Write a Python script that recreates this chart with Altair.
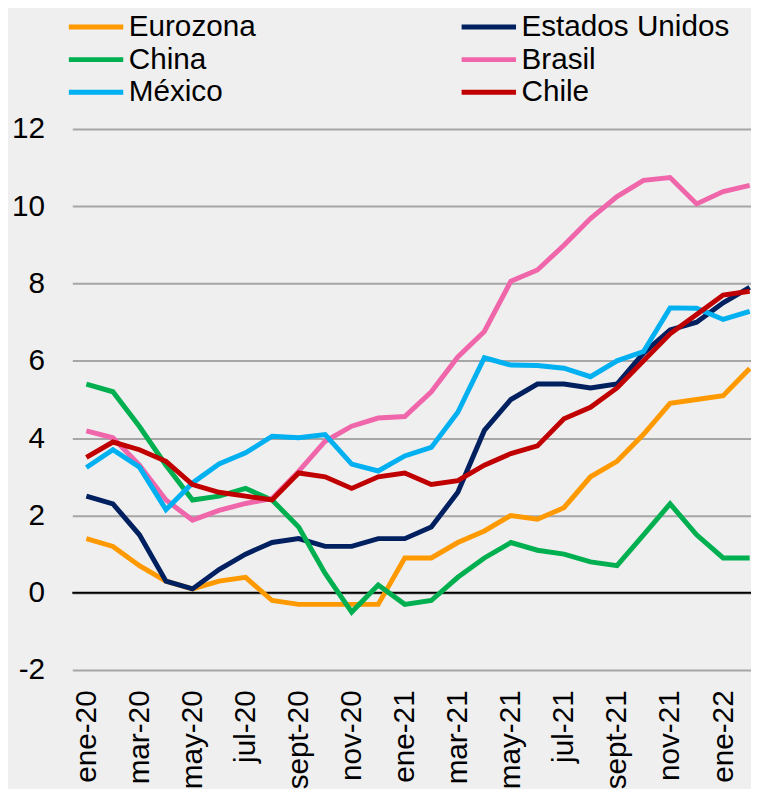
import altair as alt
import pandas as pd

months = ["ene-20", "feb-20", "mar-20", "abr-20", "may-20", "jun-20", "jul-20", "ago-20",
          "sept-20", "oct-20", "nov-20", "dic-20", "ene-21", "feb-21", "mar-21", "abr-21",
          "may-21", "jun-21", "jul-21", "ago-21", "sept-21", "oct-21", "nov-21", "dic-21",
          "ene-22", "feb-22"]

eurozona = [1.4, 1.2, 0.7, 0.3, 0.1, 0.3, 0.4, -0.2, -0.3, -0.3, -0.3, -0.3, 0.9, 0.9, 1.3, 1.6,
            2.0, 1.9, 2.2, 3.0, 3.4, 4.1, 4.9, 5.0, 5.1, 5.8]
estados_unidos = [2.5, 2.3, 1.5, 0.3, 0.1, 0.6, 1.0, 1.3, 1.4, 1.2, 1.2, 1.4, 1.4, 1.7, 2.6, 4.2,
                  5.0, 5.4, 5.4, 5.3, 5.4, 6.2, 6.8, 7.0, 7.5, 7.9]
china = [5.4, 5.2, 4.3, 3.3, 2.4, 2.5, 2.7, 2.4, 1.7, 0.5, -0.5, 0.2, -0.3, -0.2, 0.4, 0.9,
         1.3, 1.1, 1.0, 0.8, 0.7, 1.5, 2.3, 1.5, 0.9, 0.9]
brasil = [4.19, 4.01, 3.30, 2.40, 1.88, 2.13, 2.31, 2.44, 3.14, 3.92, 4.31, 4.52, 4.56, 5.20,
          6.10, 6.76, 8.06, 8.35, 8.99, 9.68, 10.25, 10.67, 10.74, 10.06, 10.38, 10.54]
mexico = [3.24, 3.70, 3.25, 2.15, 2.84, 3.33, 3.62, 4.05, 4.01, 4.09, 3.33, 3.15, 3.54, 3.76,
          4.67, 6.08, 5.89, 5.88, 5.81, 5.59, 6.00, 6.24, 7.37, 7.36, 7.07, 7.28]
chile = [3.5, 3.9, 3.7, 3.4, 2.8, 2.6, 2.5, 2.4, 3.1, 3.0, 2.7, 3.0, 3.1, 2.8, 2.9, 3.3,
         3.6, 3.8, 4.5, 4.8, 5.3, 6.0, 6.7, 7.2, 7.7, 7.8]

names = ["Eurozona", "Estados Unidos", "China", "Brasil", "México", "Chile"]
colors = ["#FF9900", "#002060", "#00B050", "#F066AA", "#00B0F0", "#C00000"]
series = [eurozona, estados_unidos, china, brasil, mexico, chile]

rows = []
for name, vals in zip(names, series):
    for i, v in enumerate(vals):
        rows.append({"serie": name, "i": i, "mes": months[i], "valor": v})
df = pd.DataFrame(rows)

FONT = "Liberation Sans"
label_expr = "[" + ",".join("'%s'" % m for m in months) + "][datum.value]"

lines = alt.Chart(df).mark_line(strokeWidth=5, clip=True).encode(
    x=alt.X("i:Q",
            scale=alt.Scale(domain=[-0.53, 25.05], nice=False, zero=False),
            axis=alt.Axis(values=list(range(0, 26, 2)), labelExpr=label_expr,
                          labelAngle=270, labelFontSize=30, labelFont=FONT,
                          labelColor="black", labelPadding=20, labelOverlap=False,
                          labelBound=False, labelFlush=False,
                          ticks=False, domain=False, grid=False, title=None)),
    y=alt.Y("valor:Q",
            scale=alt.Scale(domain=[-2, 12], nice=False, zero=False),
            axis=alt.Axis(values=list(range(-2, 13, 2)), labelExpr="'' + datum.value",
                          labelFontSize=30, labelFont=FONT,
                          labelColor="black", labelPadding=28, ticks=False, domain=False,
                          grid=True, gridColor="#a6a6a6", gridWidth=2, title=None)),
    color=alt.Color("serie:N",
                    scale=alt.Scale(domain=names, range=colors),
                    legend=alt.Legend(orient="none", legendX=9, legendY=-118, columns=2,
                                      direction="horizontal",
                                      symbolType="M-2.5,0H2.5", symbolStrokeWidth=5,
                                      symbolSize=484, labelFontSize=30, labelFont=FONT,
                                      labelColor="black", labelOffset=18, labelLimit=500,
                                      columnPadding=197, rowPadding=3, title=None,
                                      symbolOpacity=1)),
)

zero = alt.Chart(pd.DataFrame({"y": [0]})).mark_rule(color="black", strokeWidth=2).encode(
    y="y:Q")

chart = alt.layer(zero, lines).properties(
    width=686, height=547,
    autosize=alt.AutoSizeParams(type="none"),
    padding={"left": 65, "top": 118, "right": 0, "bottom": 116},
    background="#efefef",
).configure_view(stroke=None)

chart.save("out.html", embed_options={"renderer": "svg", "actions": False})
